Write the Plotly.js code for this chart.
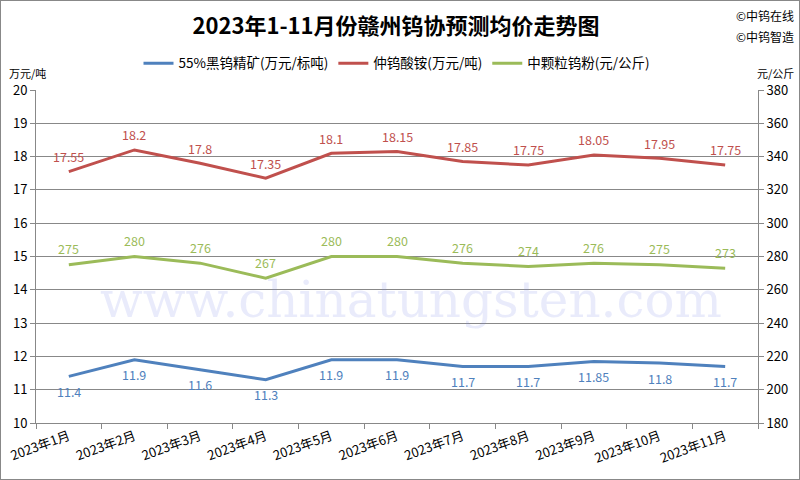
<!DOCTYPE html>
<html><head><meta charset="utf-8">
<script src="https://cdn.plot.ly/plotly-3.0.1.min.js"></script>
<style>html,body{margin:0;padding:0;background:#fff}#c{width:798px;height:478px;border:1px solid #888;}</style>
</head><body><div id="c"></div>
<script>
const months = ["2023年1月","2023年2月","2023年3月","2023年4月","2023年5月","2023年6月","2023年7月","2023年8月","2023年9月","2023年10月","2023年11月"];
const blackConc = [11.4, 11.9, 11.6, 11.3, 11.9, 11.9, 11.7, 11.7, 11.85, 11.8, 11.7];
const apt = [17.55, 18.2, 17.8, 17.35, 18.1, 18.15, 17.85, 17.75, 18.05, 17.95, 17.75];
const powder = [275, 280, 276, 267, 280, 280, 276, 274, 276, 275, 273];
const names = ["55%黑钨精矿(万元/标吨)", "仲钨酸铵(万元/吨)", "中颗粒钨粉(元/公斤)"];
const colors = ["#4F81BD", "#C0504D", "#9BBB59"];
const font = "Noto Sans CJK SC, sans-serif";

const traces = [
  {x: months, y: blackConc, name: names[0], mode: "lines", line: {color: colors[0], width: 3}},
  {x: months, y: apt, name: names[1], mode: "lines", line: {color: colors[1], width: 3}},
  {x: months, y: powder, name: names[2], yaxis: "y2", mode: "lines", line: {color: colors[2], width: 3}}
];

function labels(vals, yref, shift, color) {
  return vals.map((v, i) => ({x: months[i], y: v, xref: "x", yref: yref, text: String(v), showarrow: false,
    yshift: shift, xanchor: "center", yanchor: "middle", font: {size: 12.5, color: color, family: font}}));
}

const annotations = [
  {text: "万元/吨", xref: "paper", yref: "paper", x: -0.04, y: 1.05, xanchor: "left", yanchor: "middle", showarrow: false, font: {size: 11}},
  {text: "元/公斤", xref: "paper", yref: "paper", x: 1.052, y: 1.05, xanchor: "right", yanchor: "middle", showarrow: false, font: {size: 11}},
  {text: "©中钨在线", xref: "paper", yref: "paper", x: 1.052, y: 1.225, xanchor: "right", yanchor: "middle", showarrow: false, font: {size: 12}},
  {text: "©中钨智造", xref: "paper", yref: "paper", x: 1.052, y: 1.16, xanchor: "right", yanchor: "middle", showarrow: false, font: {size: 12}},
  {text: "www.chinatungsten.com", xref: "paper", yref: "paper", x: 0.52, y: 0.37, xanchor: "center", yanchor: "middle", showarrow: false,
   font: {size: 50, family: "DejaVu Serif, serif", color: "rgba(120,130,230,0.16)"}}
].concat(labels(blackConc, "y", -15, colors[0]), labels(apt, "y", 15, colors[1]), labels(powder, "y2", 16, colors[2]));

const layout = {
  width: 798, height: 478,
  margin: {l: 35, r: 41, t: 89, b: 56},
  paper_bgcolor: "#fff", plot_bgcolor: "#fff",
  font: {family: font, size: 12, color: "#000"},
  title: {text: "<b>2023年1-11月份赣州钨协预测均价走势图</b>", x: 0.495, xanchor: "center", y: 0.948, yanchor: "middle",
          font: {size: 22, family: font, color: "#000"}},
  showlegend: true,
  legend: {orientation: "h", x: 0.5, xanchor: "center", y: 1.08, yanchor: "middle",
           font: {size: 13.5, family: font}},
  xaxis: {type: "category", range: [-0.5, 10.5], autorange: false, tickangle: -20, showgrid: false, showline: true, linecolor: "#888",
          ticks: "outside", ticklen: 5, tickcolor: "#888", tickson: "boundaries",
          tickfont: {size: 13, family: font}},
  yaxis: {range: [10, 20], dtick: 1, showgrid: true, gridcolor: "#888", gridwidth: 1,
          showline: true, linecolor: "#888", ticks: "outside", ticklen: 5, tickcolor: "#888",
          zeroline: false, tickfont: {size: 13, family: font}},
  yaxis2: {range: [180, 380], dtick: 20, overlaying: "y", side: "right", showgrid: false,
           showline: true, linecolor: "#888", ticks: "outside", ticklen: 5, tickcolor: "#888",
           zeroline: false, tickfont: {size: 13, family: font}},
  annotations: annotations
};
Plotly.newPlot("c", traces, layout, {displayModeBar: false, staticPlot: true});
</script></body></html>
